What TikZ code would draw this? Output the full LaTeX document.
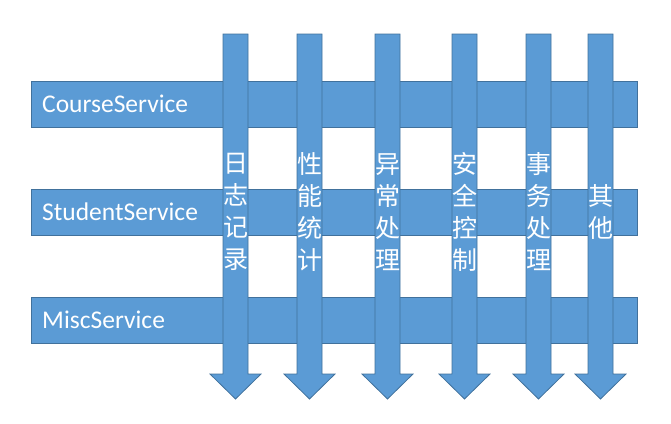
\documentclass[tikz,border=0pt]{standalone}
\usepackage{fontspec}
\setsansfont{Carlito}
\newfontfamily\cjk{Noto Sans CJK SC}
\definecolor{barfill}{HTML}{5B9BD5}
\definecolor{barline}{HTML}{41719C}
\begin{document}
\begin{tikzpicture}[x=1pt,y=-1pt,
  barbox/.style={draw=barline,fill=barfill,line width=0.8pt,rectangle,
    minimum width=606pt,minimum height=46pt,inner sep=0pt,anchor=north west},
  bartext/.style={text=white,font=\sffamily\fontsize{25.5}{30}\selectfont,anchor=west,inner sep=0pt},
  arrowshape/.style={draw=barline,fill=barfill,line width=0.8pt,line join=miter},
  vtext/.style={text=white,font=\cjk\fontsize{25}{32}\selectfont,align=center,inner sep=0pt}]
\useasboundingbox (0,0) rectangle (671,423);
% bars
\node[barbox] (b1) at (31,81) {};
\node[barbox] (b2) at (31,189) {};
\node[barbox] (b3) at (31,297) {};
\node[bartext] (t1) at (42,104) {CourseService};
\node[bartext] (t2) at (42,212) {StudentService};
\node[bartext] (t3) at (42,320) {MiscService};
% arrows
\foreach \cx/\nm in {235.5/a1,309.5/a2,387.5/a3,464.5/a4,538.5/a5,600.5/a6}{
  \draw[arrowshape] (\cx-12.5,34) -- (\cx+12.5,34) -- (\cx+12.5,374) -- (\cx+25.5,374)
     -- (\cx,399) -- (\cx-25.5,374) -- (\cx-12.5,374) -- cycle;
  \coordinate (\nm) at (\cx,212);
}
\node[vtext] (v1) at (a1) {日\\志\\记\\录};
\node[vtext] (v2) at (a2) {性\\能\\统\\计};
\node[vtext] (v3) at (a3) {异\\常\\处\\理};
\node[vtext] (v4) at (a4) {安\\全\\控\\制};
\node[vtext] (v5) at (a5) {事\\务\\处\\理};
\node[vtext] (v6) at (a6) {其\\他};
\end{tikzpicture}
\end{document}
